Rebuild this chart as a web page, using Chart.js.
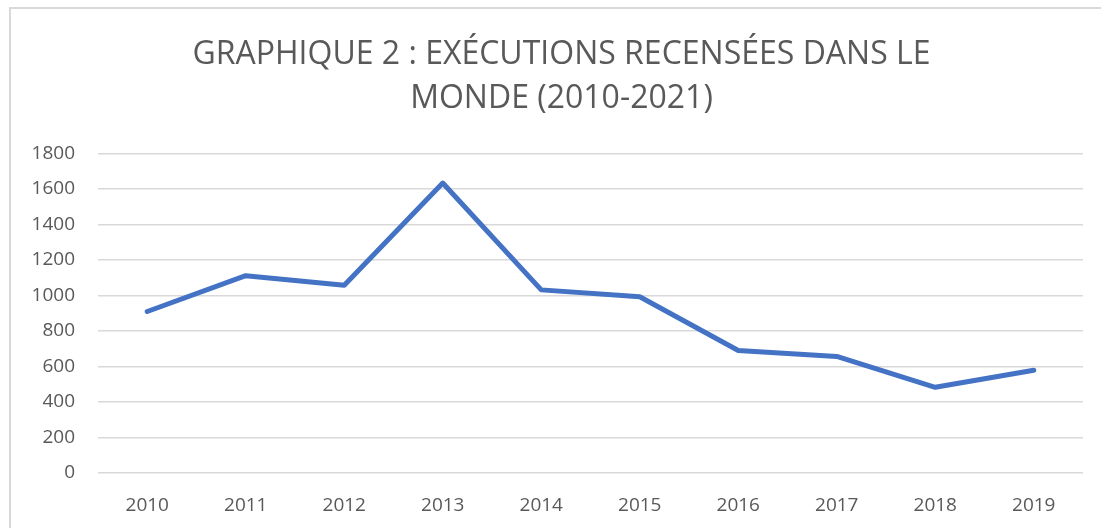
<!DOCTYPE html>
<html>
<head>
<meta charset="utf-8">
<script src="https://cdn.jsdelivr.net/npm/chart.js@4"></script>
<style>
    html, body { margin: 0; padding: 0; background: #fff; }
    #wrap { position: relative; width: 1101px; height: 528px; }
    #frame {
        position: absolute; left: 9px; top: 7px; right: -5px; bottom: -5px;
        border-left: 2px solid #d9d9d9; border-top: 2px solid #d9d9d9;
    }
    canvas { position: absolute; left: 0; top: 0; }
</style>
</head>
<body>
<div id="wrap">
    <div id="frame"></div>
    <canvas id="chart" width="1101" height="528"></canvas>
</div>
<script>
const years = ['2010', '2011', '2012', '2013', '2014', '2015', '2016', '2017', '2018', '2019'];
const executions = [910, 1112, 1058, 1634, 1032, 993, 690, 657, 483, 579];
const titleLines = ['GRAPHIQUE 2 : EXÉCUTIONS RECENSÉES DANS LE', 'MONDE (2010-2021)'];

const ctx = document.getElementById('chart').getContext('2d');

// nudge the title a bit right, it sits centred on the whole frame in the original
const shiftTitle = {
    id: 'shiftTitle',
    afterLayout: function (chart) {
        if (chart.titleBlock) {
            chart.titleBlock.left += 15;
            chart.titleBlock.right += 15;
        }
    }
};

new Chart(ctx, {
    type: 'line',
    data: {
        labels: years,
        datasets: [{
            label: 'Exécutions',
            data: executions,
            borderColor: '#4472C4',
            backgroundColor: '#4472C4',
            borderWidth: 5,
            pointRadius: 0,
            tension: 0,
            borderCapStyle: 'round',
            borderJoinStyle: 'round',
            fill: false
        }]
    },
    options: {
        responsive: false,
        animation: false,
        layout: {
            padding: { left: 10, right: 18, top: 11, bottom: 10 }
        },
        scales: {
            x: {
                offset: true,
                grid: { display: false },
                border: { display: false },
                ticks: {
                    color: '#595959',
                    font: { family: 'Open Sans', size: 19 },
                    padding: 13
                },
                afterFit: function (scale) { scale.height = 45; }
            },
            y: {
                min: 0,
                max: 1800,
                ticks: {
                    stepSize: 200,
                    color: '#595959',
                    font: { family: 'Open Sans', size: 19 },
                    padding: 23,
                    callback: function (value) { return String(value); }
                },
                grid: { color: '#d9d9d9', lineWidth: 1.5, drawTicks: false },
                border: { display: false },
                afterFit: function (scale) { scale.width = 88; }
            }
        },
        plugins: {
            legend: { display: false },
            tooltip: { enabled: false },
            title: {
                display: true,
                text: titleLines,
                color: '#595959',
                font: { family: "'Open Sans', sans-serif", size: 32, weight: 'normal', lineHeight: 1.4 },
                padding: { top: 21, bottom: 32 }
            }
        }
    },
    plugins: [shiftTitle]
});
</script>
</body>
</html>
